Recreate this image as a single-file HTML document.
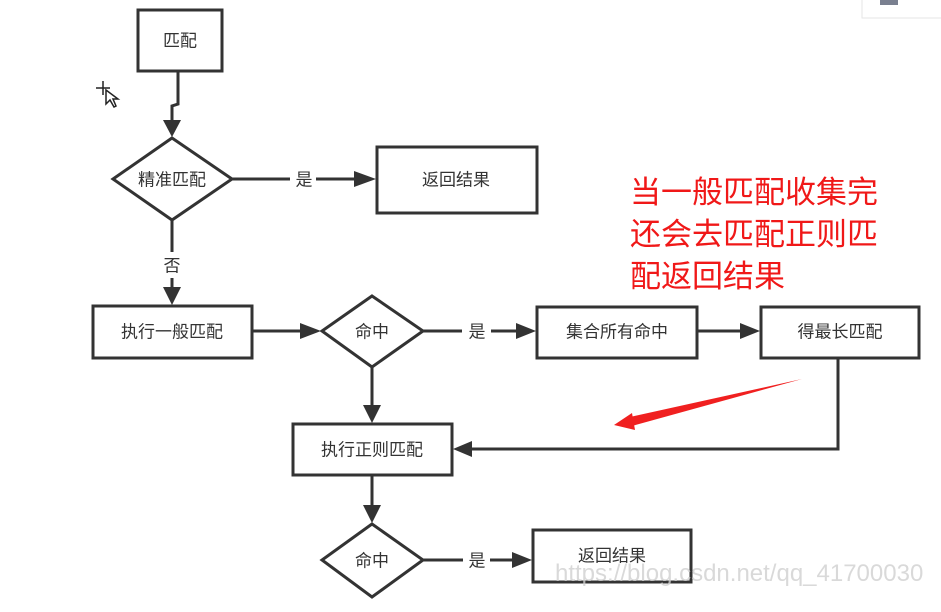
<!DOCTYPE html>
<html><head><meta charset="utf-8"><style>
body{margin:0;background:#fff;width:941px;height:612px;overflow:hidden;font-family:"Liberation Sans","Noto Sans CJK SC",sans-serif}
</style></head><body>
<svg width="941" height="612" viewBox="0 0 941 612" xmlns="http://www.w3.org/2000/svg" style="position:absolute;left:0;top:0">
<rect x="862" y="-2" width="80" height="20" fill="#fff" stroke="#e6e6e6"/>
<rect x="880" y="-2" width="18" height="7" fill="#7a8090"/>
<g fill="none" stroke="#333" stroke-width="3">
<rect x="138" y="10" width="84" height="61" fill="#fff"/>
<rect x="377" y="147" width="160" height="66"/>
<rect x="93" y="306" width="159" height="52"/>
<rect x="537" y="307" width="160" height="51"/>
<rect x="761" y="307" width="158" height="51"/>
<rect x="293" y="424" width="159" height="51"/>
<rect x="533" y="530" width="158" height="52"/>
<polygon points="172,138 232,179 172,220 113,179"/>
<polygon points="372,296 423,331 372,367 322,331"/>
<polygon points="372,524 423,560 372,597 322,560"/>
<polyline points="178,72 178,104 172,106 172,122"/>
<line x1="232" y1="179" x2="290" y2="179"/><line x1="316" y1="179" x2="356" y2="179"/>
<line x1="172" y1="220" x2="172" y2="252"/><line x1="172" y1="278" x2="172" y2="288"/>
<line x1="252" y1="331" x2="302" y2="331"/>
<line x1="423" y1="331" x2="462" y2="331"/><line x1="491" y1="331" x2="518" y2="331"/>
<line x1="697" y1="331" x2="742" y2="331"/>
<line x1="372" y1="367" x2="372" y2="406"/>
<polyline points="838,358 838,449 470,449"/>
<line x1="372" y1="475" x2="372" y2="506"/>
<line x1="423" y1="560" x2="463" y2="560"/><line x1="490" y1="560" x2="514" y2="560"/>
</g>
<g fill="#333">
<polygon points="163,120 181,120 172,137"/>
<polygon points="354,171 354,187 376,179"/>
<polygon points="163,287 181,287 172,305"/>
<polygon points="300,323 300,339 321,331"/>
<polygon points="516,323 516,339 536,331"/>
<polygon points="740,323 740,339 760,331"/>
<polygon points="363,405 381,405 372,423"/>
<polygon points="472,441 472,457 453,449"/>
<polygon points="363,505 381,505 372,523"/>
<polygon points="512,552 512,568 532,560"/>
</g>
<polygon points="802,379 630,417 632,426" fill="#f02020"/>
<polygon points="614,425 632,413 635,430" fill="#f02020"/>
<g font-size="17" fill="#333" text-anchor="middle" dominant-baseline="central" font-family="Liberation Sans,Noto Sans CJK SC,sans-serif">
<text x="180" y="41">匹配</text>
<text x="172" y="180">精准匹配</text>
<text x="304" y="180">是</text>
<text x="456" y="180">返回结果</text>
<text x="172" y="266">否</text>
<text x="172" y="332">执行一般匹配</text>
<text x="372" y="332">命中</text>
<text x="477" y="332">是</text>
<text x="617" y="332">集合所有命中</text>
<text x="840" y="332">得最长匹配</text>
<text x="372" y="450">执行正则匹配</text>
<text x="372" y="561">命中</text>
<text x="477" y="561">是</text>
<text x="612" y="556">返回结果</text>
</g>
<text x="555" y="581" font-size="24" fill="#d0d0d0" opacity="0.8" font-family="Liberation Sans,sans-serif">https://blog.csdn.net/qq_41700030</text>
<g font-size="31" fill="#f01818" font-family="Liberation Sans,Noto Sans CJK SC,sans-serif">
<text x="630" y="203">当一般匹配收集完</text>
<text x="630" y="245">还会去匹配正则匹</text>
<text x="630" y="287">配返回结果</text>
</g>
<g stroke="#222" stroke-width="1.5" fill="none">
<path d="M96,88 L110,88 M103,81 L103,95"/>
<path d="M106,90 L106,104 L110,100 L114,107 L116,106 L113,99 L118,99 Z" fill="#fff"/>
</g>
</svg>
</body></html>
